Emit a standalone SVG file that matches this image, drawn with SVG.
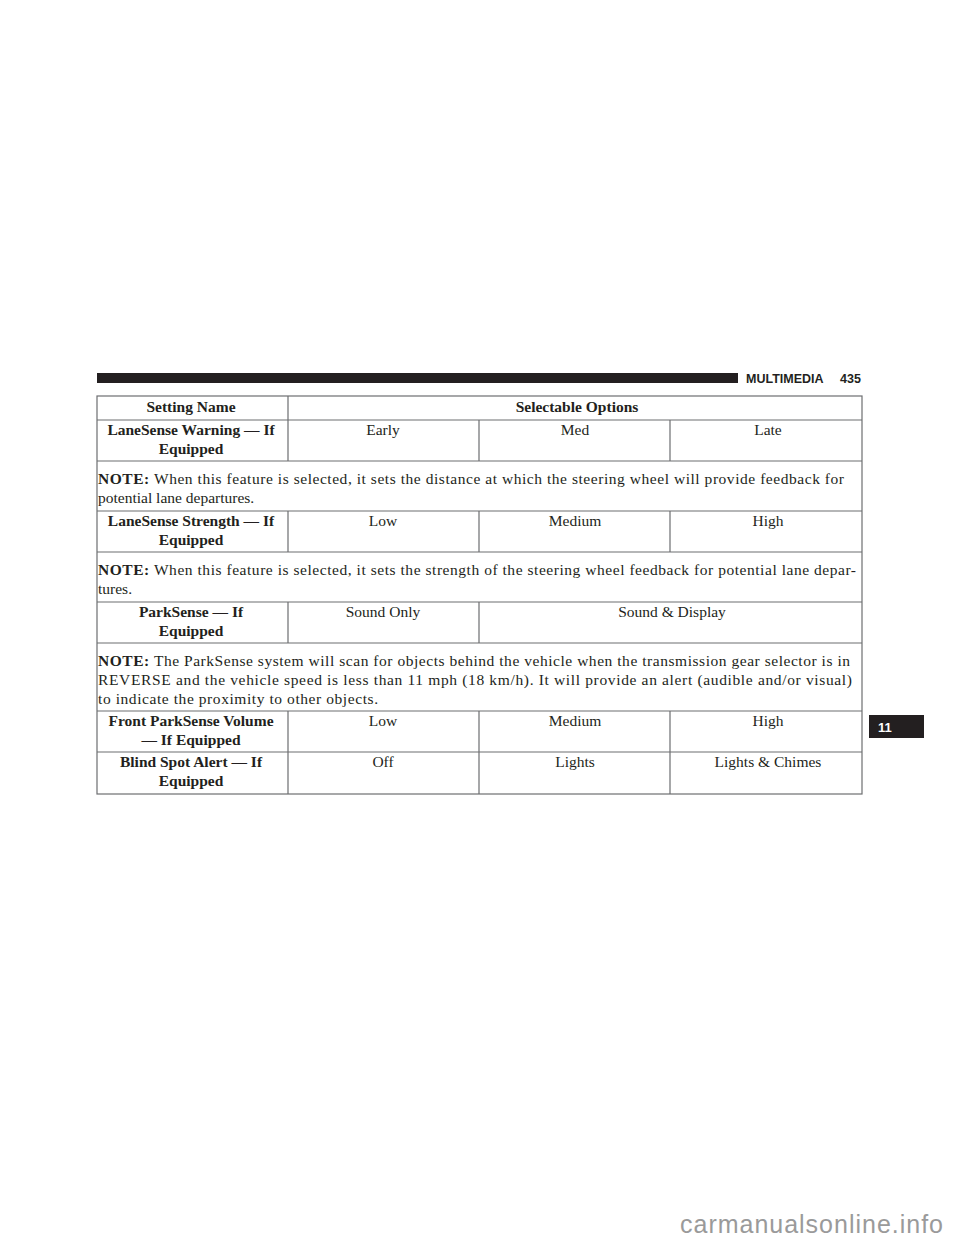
<svg xmlns="http://www.w3.org/2000/svg" width="960" height="1242" viewBox="0 0 960 1242">
<style>
text{font-family:"Liberation Serif","DejaVu Serif",serif;font-size:15.5px;fill:#231f20}
.b{font-weight:bold}
.c{text-anchor:middle}
.l{stroke:#6d6e71;stroke-width:1.2;fill:none}
.h{font-family:"Liberation Sans",Arial,sans-serif;font-weight:bold;font-size:12.5px}
</style>
<rect width="960" height="1242" fill="#fff"/>
<rect x="97" y="373" width="641" height="10" fill="#231f20"/>
<text class="h" x="746" y="383">MULTIMEDIA</text>
<text class="h" x="840" y="383">435</text>
<g id="table">
<rect class="l" x="97" y="396" width="765" height="398"/>
<path class="l" d="M97 420H862M97 461H862M97 511H862M97 552H862M97 602H862M97 643H862M97 711H862M97 752H862
M288 396V461M479 420V461M670 420V461
M288 511V552M479 511V552M670 511V552
M288 602V643M479 602V643
M288 711V794M479 711V794M670 711V794"/>
<text class="b c" x="191" y="412">Setting Name</text>
<text class="b c" x="577" y="412">Selectable Options</text>
<text class="b c" x="191" y="435">LaneSense Warning — If</text>
<text class="b c" x="191" y="454">Equipped</text>
<text class="c" x="383" y="435">Early</text>
<text class="c" x="575" y="435">Med</text>
<text class="c" x="768" y="435">Late</text>
<text x="98" y="484" textLength="746" lengthAdjust="spacing"><tspan class="b">NOTE:</tspan> When this feature is selected, it sets the distance at which the steering wheel will provide feedback for</text>
<text x="98" y="503">potential lane departures.</text>
<text class="b c" x="191" y="526">LaneSense Strength — If</text>
<text class="b c" x="191" y="545">Equipped</text>
<text class="c" x="383" y="526">Low</text>
<text class="c" x="575" y="526">Medium</text>
<text class="c" x="768" y="526">High</text>
<text x="98" y="575" textLength="758" lengthAdjust="spacing"><tspan class="b">NOTE:</tspan> When this feature is selected, it sets the strength of the steering wheel feedback for potential lane depar-</text>
<text x="98" y="594">tures.</text>
<text class="b c" x="191" y="617">ParkSense — If</text>
<text class="b c" x="191" y="636">Equipped</text>
<text class="c" x="383" y="617">Sound Only</text>
<text class="c" x="672" y="617">Sound &amp; Display</text>
<text x="98" y="666" textLength="752" lengthAdjust="spacing"><tspan class="b">NOTE:</tspan> The ParkSense system will scan for objects behind the vehicle when the transmission gear selector is in</text>
<text x="98" y="685" textLength="754" lengthAdjust="spacing">REVERSE and the vehicle speed is less than 11 mph (18 km/h). It will provide an alert (audible and/or visual)</text>
<text x="98" y="704" textLength="280" lengthAdjust="spacing">to indicate the proximity to other objects.</text>
<text class="b c" x="191" y="726">Front ParkSense Volume</text>
<text class="b c" x="191" y="745">— If Equipped</text>
<text class="c" x="383" y="726">Low</text>
<text class="c" x="575" y="726">Medium</text>
<text class="c" x="768" y="726">High</text>
<text class="b c" x="191" y="767">Blind Spot Alert — If</text>
<text class="b c" x="191" y="786">Equipped</text>
<text class="c" x="383" y="767">Off</text>
<text class="c" x="575" y="767">Lights</text>
<text class="c" x="768" y="767">Lights &amp; Chimes</text>
</g>
<rect x="869" y="715" width="55" height="23" fill="#231f20"/>
<text class="h" x="878" y="732" style="fill:#fff;font-size:13px">11</text>
<text x="680" y="1233" textLength="263" style="font-family:'Liberation Sans',sans-serif;font-size:25px;fill:#9a9a9a">carmanualsonline.info</text>
</svg>
